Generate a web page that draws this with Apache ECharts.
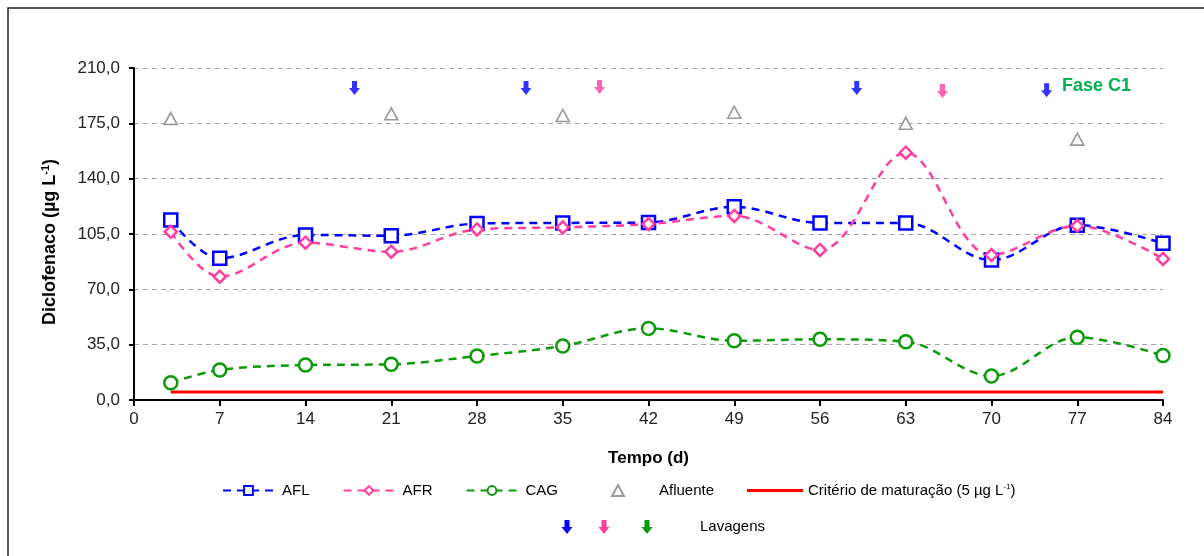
<!DOCTYPE html>
<html><head><meta charset="utf-8">
<script src="https://cdn.jsdelivr.net/npm/echarts@6/dist/echarts.min.js"></script>
<style>html,body{margin:0;padding:0;background:#fff}#c{width:1204px;height:556px}</style>
</head><body><div id="c"></div>
<script>
const days = [3, 7, 14, 21, 28, 35, 42, 49, 56, 63, 70, 77, 84];
const afl = [113.9, 89.6, 104.4, 103.9, 111.6, 112.0, 112.3, 122.2, 112.0, 112.0, 88.5, 110.6, 99.1];
const afr = [106.4, 78.0, 99.5, 93.8, 107.9, 109.2, 111.3, 116.4, 94.9, 156.4, 91.7, 110.2, 89.2];
const cag = [10.9, 19.0, 22.1, 22.6, 27.8, 34.2, 45.3, 37.5, 38.4, 36.9, 15.2, 39.7, 28.1];
const afluenteDays = [3, 21, 35, 49, 63, 77];
const afluente = [178, 181, 180, 182, 175, 165];
const criterioDays = [3, 84];
const criterio = [5, 5];
const lavBlueDays = [18, 32, 59, 74.5];
const lavBlue = [197.3, 197.3, 197.3, 196];
const lavPinkDays = [38, 66];
const lavPink = [198, 195.4];
const yTicks = [0, 35, 70, 105, 140, 175, 210];
const xTicks = [0, 7, 14, 21, 28, 35, 42, 49, 56, 63, 70, 77, 84];

const BLUE = '#0000FF', PINK = '#FF3FA0', GREEN = '#0A9A0A', GREY = '#7F7F7F', RED = '#FF0000';
const ARROW = 'path://M3,0 L8,0 L8,7 L11,7 L5.5,14 L0,7 L3,7 Z';
const ARROW_PTS = [[3,0],[8,0],[8,7],[11,7],[5.5,14],[0,7],[3,7]];
const zip = (xs, ys) => xs.map((x, i) => [x, ys[i]]);
const FONT = 'Liberation Sans, Arial, sans-serif';

const chart = echarts.init(document.getElementById('c'), null, {renderer: 'canvas'});
const lineSeries = (name, data, color, symbol, size) => ({
  name, type: 'line', data: zip(days, data), smooth: 0.35,
  symbol, symbolSize: size, showSymbol: true,
  lineStyle: {color, width: 2.5, type: [8, 6]},
  itemStyle: {color: '#fff', borderColor: color, borderWidth: 2.5},
  z: 3
});
const arrowG = (x, y, color) => ({type: 'polygon', x, y, silent: true,
  shape: {points: ARROW_PTS}, style: {fill: color}});
const legendText = {fontSize: 15, color: '#000', fontFamily: FONT};
chart.setOption({
  animation: false,
  textStyle: {fontFamily: FONT},
  grid: {left: 134, right: 41, top: 68, bottom: 156, containLabel: false},
  xAxis: {
    type: 'value', min: 0, max: 84, interval: 7,
    name: 'Tempo (d)', nameLocation: 'middle', nameGap: 50,
    nameTextStyle: {fontSize: 17, fontWeight: 'bold', color: '#000', fontFamily: FONT},
    axisLine: {lineStyle: {color: '#000', width: 2}},
    axisTick: {show: true, length: 6, lineStyle: {color: '#000', width: 2}},
    axisLabel: {fontSize: 17, color: '#222', margin: 11, fontFamily: FONT},
    splitLine: {show: false}
  },
  yAxis: {
    type: 'value', min: 0, max: 210, interval: 35,
    name: '{a|Diclofenaco (µg L}{s|-1}{a|)}', nameLocation: 'middle', nameGap: 74, nameRotate: 90,
    nameTextStyle: {
      padding: [0, 16, 0, 0],
      rich: {
        a: {fontSize: 18, fontWeight: 'bold', color: '#000', fontFamily: FONT},
        s: {fontSize: 11, fontWeight: 'bold', color: '#000', fontFamily: FONT, verticalAlign: 'top', padding: [0, 0, 9, 0]}
      }
    },
    axisLine: {show: true, lineStyle: {color: '#000', width: 2}},
    axisTick: {show: true, length: 5, lineStyle: {color: '#000', width: 2}},
    axisLabel: {fontSize: 17, color: '#222', margin: 14, fontFamily: FONT,
      formatter: v => v.toFixed(1).replace('.', ',')},
    splitLine: {show: true, lineStyle: {color: '#A6A6A6', width: 1, type: [5, 4]}}
  },
  legend: [
    {left: 217, top: 478, itemWidth: 51, itemHeight: 11, itemGap: 33,
      data: ['AFL', 'AFR', 'CAG'],
      textStyle: Object.assign({padding: [0, 0, 0, 3]}, legendText)},
    {left: 606, top: 478, itemWidth: 12, itemHeight: 11,
      data: [{name: 'Afluente', icon: 'triangle'}],
      textStyle: Object.assign({padding: [0, 0, 0, 30]}, legendText)},
    {left: 742, top: 478, itemWidth: 56, itemHeight: 3,
      data: [{name: 'Critério', icon: 'rect'}],
      formatter: () => '{t|Critério de maturação (5 µg L}{s|-1}{t|)}',
      textStyle: Object.assign({padding: [0, 0, 0, 0],
        rich: {t: legendText, s: {fontSize: 8, color: '#000', verticalAlign: 'top', padding: [0, 0, 7, 0]}}}, legendText)}
  ],
  series: [
    lineSeries('AFL', afl, BLUE, 'rect', 13),
    lineSeries('AFR', afr, PINK, 'diamond', 12),
    lineSeries('CAG', cag, GREEN, 'circle', 13),
    {name: 'Afluente', type: 'scatter', data: zip(afluenteDays, afluente), symbol: 'triangle', symbolSize: [13, 12],
      itemStyle: {color: '#fff', borderColor: GREY, borderWidth: 1.6}},
    {name: 'Critério', type: 'line', data: zip(criterioDays, criterio), symbol: 'none',
      lineStyle: {color: RED, width: 3}, itemStyle: {color: RED}, z: 2},
    {name: 'LavAFL', type: 'scatter', data: zip(lavBlueDays, lavBlue), symbol: ARROW, symbolSize: [11, 14],
      symbolKeepAspect: false, itemStyle: {color: BLUE}},
    {name: 'LavAFR', type: 'scatter', data: zip(lavPinkDays, lavPink), symbol: ARROW, symbolSize: [11, 14],
      symbolKeepAspect: false, itemStyle: {color: PINK}}
  ],
  graphic: [
    {type: 'rect', x: 8, y: 8, silent: true, shape: {x: 0, y: 0, width: 1300, height: 700},
      style: {fill: 'none', stroke: '#222', lineWidth: 1.5}},
    {type: 'text', x: 1062, y: 77, style: {text: 'Fase C1', fontSize: 18, fontWeight: 'bold', fill: '#00B050', fontFamily: FONT}},
    arrowG(561.5, 520, BLUE),
    arrowG(598.5, 520, PINK),
    arrowG(641.5, 520, GREEN),
    {type: 'text', x: 700, y: 519, style: {text: 'Lavagens', fontSize: 15, fill: '#000', fontFamily: FONT}}
  ]
});
</script></body></html>
